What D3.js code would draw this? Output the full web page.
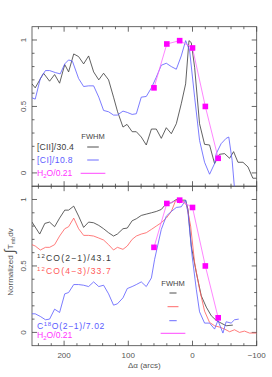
<!DOCTYPE html>
<html>
<head>
<meta charset="utf-8">
<script src="https://cdn.jsdelivr.net/npm/d3@7"></script>
<style>
  body { margin: 0; background: #fff; }
  text { font-family: "Liberation Sans", Arial, sans-serif; }
</style>
</head>
<body>
<div id="chart"></div>
<script>
// offsets (arcsec) and normalized intensities
const ciiX = [250, 245, 232, 222.6, 214.8, 207, 199, 193, 185, 177.4, 169.6, 161.8, 154, 146, 138.5, 130.7, 123, 116.7, 108.3, 102, 94, 87.5, 79.8, 72, 64, 56.4, 48.6, 40.8, 33, 25.2, 17.5, 10.7, 5.5, 1.9, -3.3, -11, -18.8, -26.6, -34.4, -42, -50, -57.8, -64, -70.8, -78.6, -86.4, -94, -100];
const ciiY = [0.67, 0.64, 0.75, 0.69, 0.74, 0.675, 0.815, 0.76, 0.895, 0.875, 0.82, 0.88, 0.76, 0.70, 0.75, 0.70, 0.57, 0.46, 0.345, 0.365, 0.31, 0.31, 0.27, 0.21, 0.33, 0.33, 0.26, 0.34, 0.295, 0.37, 0.52, 0.67, 0.995, 0.98, 0.795, 0.37, 0.215, 0.21, 0.07, 0.14, 0.145, 0.11, 0.16, 0.08, 0.08, 0.045, -0.04, -0.04];

const ciX = [250, 245, 237, 229, 222.6, 213.7, 206, 199, 193, 187, 177.4, 169.6, 161.8, 154, 146, 138.5, 130.7, 123, 117, 108.3, 101.6, 94, 87.5, 79.8, 72, 64, 56.4, 48.6, 40.8, 33, 25.2, 17.5, 10.7, 4.5, -3.3, -11, -18.8, -26.6, -34.4, -37, -44.6, -52.4, -56.5, -61.7, -65.4];
const ciY = [0.565, 0.555, 0.71, 0.77, 0.77, 0.755, 0.745, 0.82, 0.85, 0.84, 0.71, 0.65, 0.655, 0.655, 0.57, 0.47, 0.46, 0.435, 0.435, 0.465, 0.455, 0.44, 0.445, 0.57, 0.575, 0.64, 0.72, 0.81, 0.825, 0.80, 0.78, 0.88, 0.995, 0.92, 0.57, 0.245, 0.08, -0.01, 0.07, 0.145, 0.22, 0.26, 0.27, 0.095, -0.115];

const co21X = [250, 238, 230, 222.6, 214.8, 207, 199, 193, 185, 177.4, 169.6, 161.8, 154, 146, 138.5, 130.7, 123, 117, 108.3, 101.6, 94, 87.5, 79.8, 72, 64, 56.4, 48.6, 40.8, 33, 25.2, 17.5, 10.7, 7, 1.9, -5.9, -13.7, -21.5, -29.3, -37, -44.6, -52.4, -62.8];
const co21Y = [0.83, 0.74, 0.82, 0.83, 0.795, 0.86, 0.92, 0.92, 0.95, 0.875, 0.79, 0.83, 0.825, 0.805, 0.78, 0.75, 0.725, 0.74, 0.78, 0.785, 0.84, 0.855, 0.88, 0.89, 0.90, 0.91, 0.925, 0.97, 0.975, 1.0, 0.995, 0.995, 0.925, 0.65, 0.45, 0.275, 0.19, 0.125, 0.09, 0.07, 0.05, 0.055];

const co43X = [250, 245, 237, 229, 222.6, 214.8, 207, 199, 193, 185, 177.4, 169.6, 161.8, 154, 146, 138.5, 130.7, 123, 117, 108.3, 101.6, 94, 87.5, 79.8, 72, 64, 56.4, 48.6, 40.8, 33, 26, 20.7, 14, 9, 2.9, -3.3, -11, -18.8, -26.6, -34.4, -42, -50, -57.8, -65.4, -73.2, -81, -88.8, -100];
const co43Y = [0.66, 0.65, 0.62, 0.64, 0.64, 0.66, 0.725, 0.78, 0.795, 0.86, 0.78, 0.73, 0.73, 0.725, 0.71, 0.695, 0.66, 0.62, 0.64, 0.625, 0.65, 0.70, 0.725, 0.74, 0.75, 0.775, 0.80, 0.825, 0.86, 0.91, 0.995, 0.975, 0.985, 0.955, 0.80, 0.525, 0.325, 0.16, 0.075, 0.05, 0.04, 0.025, 0.005, 0.02, 0.0, 0.01, -0.005, -0.005];

const c18oX = [250, 245, 237, 229, 222.6, 214.8, 207, 199, 193, 185, 177.4, 169.6, 161.8, 154, 146, 138.5, 130.7, 123, 117, 108.3, 101.6, 94, 87.5, 79.8, 72, 64, 59, 48.6, 40.8, 33, 25.2, 17.5, 10.7, 7, 0.6, -5.9, -11, -18.8, -26.6, -34.4, -39.6, -47.4, -52.4, -60.2, -65.4, -72];
const c18oY = [0.14, 0.14, 0.12, 0.095, 0.10, 0.175, 0.15, 0.29, 0.30, 0.36, 0.36, 0.355, 0.345, 0.38, 0.345, 0.355, 0.29, 0.205, 0.215, 0.26, 0.33, 0.345, 0.36, 0.38, 0.345, 0.41, 0.55, 0.775, 0.875, 0.91, 0.94, 0.945, 0.995, 0.90, 0.575, 0.325, 0.155, 0.07, 0.07, 0.025, 0.09, -0.005, 0.08, 0.07, 0.095, 0.10];

const h2oX = [60, 40, 20, 0, -20, -40];
const h2oY = [0.64, 0.97, 0.995, 0.94, 0.50, 0.11];

// legend: labels and FWHM bar lengths (arcsec)
const topLabels = ["[CII]/30.4", "[CI]/10.8"];
const topFwhm = [18, 18, 38.5];
const botLabels = ["CO(2\u22121)/43.1", "CO(4\u22123)/33.7"];
const botFwhm = [11, 17, 11.5, 38.5];

const xMajor = [200, 100, 0, -100];
const xMinor = d3.range(240, -101, -20);
const yMajor = [0, 0.5, 1];
const yMinor = d3.range(0, 11).map(i => i / 10);

const cBlack = "#3a3a3a", cBlue = "#5b5bff", cRed = "#ff5a5a", cMag = "#ff33ff";

const W = 272, H = 377;
const left = 32, right = 256.7;
const panels = [{ top: 26.7, bottom: 186.2 }, { top: 186.2, bottom: 345.7 }];

const svg = d3.select("#chart").append("svg").attr("width", W).attr("height", H);

const x = d3.scaleLinear().domain([250, -100]).range([left, right]);
const zip = (xs, ys) => xs.map((v, i) => ({ x: v, y: ys[i] }));

panels.forEach((p, pi) => {
    p.y = d3.scaleLinear().domain([-0.1, 1.1]).range([p.bottom, p.top]);
    svg.append("clipPath").attr("id", "clip" + pi)
        .append("rect").attr("x", left).attr("y", p.top).attr("width", right - left).attr("height", p.bottom - p.top);
});

function drawFrame(p, showX) {
    const g = svg.append("g");
    g.append("rect").attr("x", left).attr("y", p.top).attr("width", right - left).attr("height", p.bottom - p.top)
        .attr("fill", "none").attr("stroke", "#444").attr("stroke-width", 0.8);
    const tk = g.append("g").attr("stroke", "#444").attr("stroke-width", 0.8);
    xMinor.forEach(v => {
        const len = xMajor.includes(v) ? 5 : 2.5;
        tk.append("line").attr("x1", x(v)).attr("x2", x(v)).attr("y1", p.bottom).attr("y2", p.bottom - len);
        tk.append("line").attr("x1", x(v)).attr("x2", x(v)).attr("y1", p.top).attr("y2", p.top + len);
    });
    yMinor.forEach(v => {
        const len = (v === 0 || v === 0.5 || v === 1) ? 5 : 2.5;
        tk.append("line").attr("x1", left).attr("x2", left + len).attr("y1", p.y(v)).attr("y2", p.y(v));
        tk.append("line").attr("x1", right).attr("x2", right - len).attr("y1", p.y(v)).attr("y2", p.y(v));
    });
    yMajor.forEach(v => {
        g.append("text").attr("transform", `translate(26,${p.y(v)}) rotate(-90)`)
            .attr("text-anchor", "middle").attr("font-size", 8).attr("fill", "#555")
            .text(v === 0.5 ? "0.5" : v);
    });
    if (showX) {
        xMajor.forEach(v => {
            g.append("text").attr("x", x(v)).attr("y", p.bottom + 12).attr("text-anchor", "middle")
                .attr("font-size", 8).attr("fill", "#555").text(v < 0 ? "\u2212" + (-v) : v);
        });
    }
}

function drawLine(p, pi, data, color) {
    svg.append("path").datum(data)
        .attr("clip-path", `url(#clip${pi})`)
        .attr("fill", "none").attr("stroke", color).attr("stroke-width", 0.8)
        .attr("d", d3.line().x(d => x(d.x)).y(d => p.y(d.y)));
}

function drawH2O(p, pi) {
    const data = zip(h2oX, h2oY);
    drawLine(p, pi, data, "#ff66ff");
    svg.append("g").selectAll("rect").data(data).join("rect")
        .attr("x", d => x(d.x) - 2.8).attr("y", d => p.y(d.y) - 2.8)
        .attr("width", 5.6).attr("height", 5.6).attr("fill", "#ff00ff");
}

const P0 = panels[0], P1 = panels[1];
drawFrame(P0, false);
drawFrame(P1, true);

drawLine(P0, 0, zip(ciiX, ciiY), cBlack);
drawLine(P0, 0, zip(ciX, ciY), cBlue);
drawH2O(P0, 0);

drawLine(P1, 1, zip(co21X, co21Y), cBlack);
drawLine(P1, 1, zip(co43X, co43Y), cRed);
drawLine(P1, 1, zip(c18oX, c18oY), cBlue);
drawH2O(P1, 1);

// FWHM bars
const fw = w => x(0) - x(w);
function fwhmBars(cx, ys, widths, colors, labelY) {
    svg.append("text").attr("x", cx).attr("y", labelY).attr("text-anchor", "middle")
        .attr("font-size", 7.5).attr("fill", "#444").text("FWHM");
    widths.forEach((w, i) => {
        svg.append("line").attr("x1", cx - fw(w) / 2).attr("x2", cx + fw(w) / 2)
            .attr("y1", ys[i]).attr("y2", ys[i]).attr("stroke", colors[i]).attr("stroke-width", 0.9);
    });
}
fwhmBars(93, [147, 160, 173.3], topFwhm, [cBlack, cBlue, cMag], 139);
fwhmBars(173, [293, 306.7, 320.7, 333.3], botFwhm, [cBlack, cRed, cBlue, cMag], 286);

// legend texts, spaced out to the widths seen in the figure
const fs = 8.6;
function fit(t, width) {
    const n = t.text().length;
    const cur = t.node().getComputedTextLength();
    t.attr("letter-spacing", Math.max(0, (width - cur) / n));
}
function h2oLabel(y) {
    const t = svg.append("text").attr("x", 37).attr("y", y).attr("font-size", fs).attr("fill", cMag);
    t.append("tspan").text("H");
    t.append("tspan").attr("font-size", fs * 0.7).attr("dy", 2).text("2");
    t.append("tspan").attr("dy", -2).text("O/0.21");
    fit(t, 32.5);
}
fit(svg.append("text").attr("x", 37).attr("y", 150).attr("font-size", fs).attr("fill", cBlack).text(topLabels[0]), 37);
fit(svg.append("text").attr("x", 37).attr("y", 163).attr("font-size", fs).attr("fill", cBlue).text(topLabels[1]), 36);
h2oLabel(176);

[[botLabels[0], 261, cBlack], [botLabels[1], 274, cRed]].forEach(([s, y, c]) => {
    const t = svg.append("text").attr("x", 37).attr("y", y).attr("font-size", fs).attr("fill", c);
    t.append("tspan").attr("font-size", fs * 0.7).attr("dy", -3).text("12");
    t.append("tspan").attr("dy", 3).text(s);
    fit(t, 75);
});
{
    const t = svg.append("text").attr("x", 37).attr("y", 329).attr("font-size", fs).attr("fill", cBlue);
    t.append("tspan").text("C");
    t.append("tspan").attr("font-size", fs * 0.7).attr("dy", -3).text("18");
    t.append("tspan").attr("dy", 3).text("O(2\u22121)/7.02");
    fit(t, 68);
}
h2oLabel(337.5);

// axis titles
svg.append("text").attr("x", x(75)).attr("y", 368).attr("text-anchor", "middle")
    .attr("font-size", 8).attr("fill", "#555").text("\u0394\u03b1 (arcs)");

const yl = svg.append("g").attr("transform", "translate(13,262) rotate(-90)");
const ylt = yl.append("text").attr("text-anchor", "middle").attr("font-size", 8).attr("fill", "#555");
ylt.append("tspan").text("Normalized ");
ylt.append("tspan").attr("font-size", 14).attr("dy", 1).text("\u222b");
ylt.append("tspan").attr("dy", -1).text("T");
ylt.append("tspan").attr("font-size", 5.5).attr("dy", 2).text("mb");
ylt.append("tspan").attr("dy", -2).text("dv");
</script>
</body>
</html>
